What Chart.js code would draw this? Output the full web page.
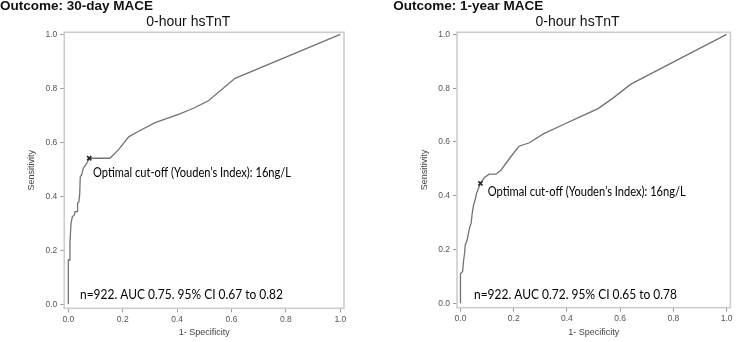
<!DOCTYPE html>
<html><head><meta charset="utf-8">
<script src="https://cdn.jsdelivr.net/npm/chart.js@4/dist/chart.umd.min.js"></script>
<style>
html,body{margin:0;padding:0;background:#fff;}
#wrap{position:relative;width:736px;height:342px;overflow:hidden;background:#fff;}
.c{position:absolute;top:0;width:368px;height:342px;}
</style></head><body>
<div id="wrap">
<div class="c" style="left:0"><canvas id="c1" width="368" height="342"></canvas></div>
<div class="c" style="left:368px"><canvas id="c2" width="368" height="342"></canvas></div>
</div>
<script>
// ---- data ----
const axisTicks = [0, 0.2, 0.4, 0.6, 0.8, 1.0];
const tickLabels = ['0.0', '0.2', '0.4', '0.6', '0.8', '1.0'];
const xTitle = '1- Specificity';
const yTitle = 'Sensitivity';
const subtitleText = '0-hour hsTnT';
const cutoffLabel = 'Optimal cut-off (Youden\u2019s Index): 16ng/L';

const mace30Title = 'Outcome: 30-day MACE';
const mace30Fpr = [0, 0, 0.004, 0.006, 0.010, 0.015, 0.022, 0.025, 0.032, 0.034, 0.039, 0.042, 0.044, 0.049, 0.055, 0.064, 0.071, 0.077, 0.153, 0.184, 0.223, 0.257, 0.319, 0.410, 0.460, 0.515, 0.613, 1.0];
const mace30Tpr = [0, 0.164, 0.164, 0.226, 0.300, 0.325, 0.330, 0.343, 0.343, 0.374, 0.380, 0.410, 0.473, 0.479, 0.504, 0.516, 0.528, 0.541, 0.541, 0.572, 0.621, 0.640, 0.673, 0.705, 0.726, 0.754, 0.837, 1.0];
const mace30Cutoff = [0.077, 0.541];
const mace30Stats = 'n=922. AUC 0.75. 95% CI 0.67 to 0.82';

const mace1yTitle = 'Outcome: 1-year MACE';
const mace1yFpr = [0, 0, 0.008, 0.012, 0.0155, 0.018, 0.025, 0.030, 0.035, 0.040, 0.044, 0.049, 0.055, 0.060, 0.0675, 0.075, 0.090, 0.108, 0.133, 0.152, 0.189, 0.220, 0.257, 0.313, 0.381, 0.449, 0.517, 0.573, 0.640, 1.0];
const mace1yTpr = [0, 0.110, 0.118, 0.161, 0.186, 0.217, 0.235, 0.260, 0.285, 0.297, 0.334, 0.365, 0.384, 0.408, 0.427, 0.446, 0.468, 0.480, 0.480, 0.495, 0.545, 0.584, 0.596, 0.631, 0.662, 0.693, 0.724, 0.763, 0.815, 1.0];
const mace1yCutoff = [0.075, 0.446];
const mace1yStats = 'n=922. AUC 0.72. 95% CI 0.65 to 0.78';

// ---- styles / layout ----
const layoutLeft = {top: 32.3, right: 24, yAxisW: 64.3, xAxisH: 33.7, xmin: -0.0147, xmax: 1.0136, ymin: -0.0148, ymax: 1.0074,
  titleX: 0, subX: 188.3, yTitlePad: 26.6, cutDx: 3.8, cutDy: 18.5, statsDx: 15.7, statsDy: 9};
const layoutRight = {top: 32.3, right: 2.7, yAxisW: 89, xAxisH: 34.3, xmin: -0.013, xmax: 1.0141, ymin: -0.0164, ymax: 1.0078,
  titleX: 25.3, subX: 209.5, yTitlePad: 51.6, cutDx: 7.3, cutDy: 12.6, statsDx: 17, statsDy: 9};

function fitText(ctx, text, x, y, targetW) {
  const w = ctx.measureText(text).width;
  const sx = targetW / w;
  ctx.save();
  ctx.translate(x, y);
  ctx.scale(sx, 1);
  ctx.fillText(text, 0, 0);
  ctx.restore();
}

function makeChart(id, title, fpr, tpr, cut, stats, L) {
  const textPlugin = {
    id: 'txt' + id,
    beforeDatasetsDraw(chart) {
      const {ctx, chartArea: a} = chart;
      ctx.save();
      ctx.strokeStyle = '#cdcdcd';
      ctx.lineWidth = 1.6;
      ctx.strokeRect(a.left, a.top, a.right - a.left, a.bottom - a.top);
      ctx.restore();
    },
    afterDraw(chart) {
      const {ctx, chartArea: a, scales} = chart;
      ctx.save();
      ctx.fillStyle = '#111';
      ctx.textBaseline = 'alphabetic';
      ctx.textAlign = 'left';
      ctx.font = 'bold 13.5px "Liberation Sans", Arial, sans-serif';
      ctx.fillText(title, L.titleX, 9.6);
      ctx.textAlign = 'center';
      ctx.font = '14px "Liberation Sans", Arial, sans-serif';
      ctx.fillText(subtitleText, L.subX, 26);
      ctx.textAlign = 'left';
      ctx.fillStyle = '#000';
      ctx.font = '12.5px Lato, "Open Sans", sans-serif';
      const px = scales.x.getPixelForValue(cut[0]);
      const py = scales.y.getPixelForValue(cut[1]);
      fitText(ctx, cutoffLabel, px + L.cutDx, py + L.cutDy, 198);
      fitText(ctx, stats, a.left + L.statsDx, a.bottom - L.statsDy, 203);
      ctx.restore();
    }
  };
  return new Chart(document.getElementById(id), {
    type: 'scatter',
    data: {
      datasets: [
        {data: fpr.map((x, i) => ({x: x, y: tpr[i]})), showLine: true, borderColor: '#727272', borderWidth: 1.3,
         pointRadius: 0, tension: 0, order: 2},
        {data: [{x: cut[0], y: cut[1]}], pointStyle: 'crossRot', pointRadius: 3, borderColor: '#222',
         backgroundColor: '#222', borderWidth: 1.6, order: 1}
      ]
    },
    options: {
      responsive: false, animation: false, devicePixelRatio: 1,
      layout: {padding: {left: 0, top: L.top, right: L.right, bottom: 0}},
      plugins: {legend: {display: false}, tooltip: {enabled: false}},
      scales: {
        x: {
          type: 'linear', min: L.xmin, max: L.xmax,
          afterBuildTicks: s => { s.ticks = axisTicks.map(v => ({value: v})); },
          afterFit: s => { s.height = L.xAxisH; },
          grid: {display: true, drawOnChartArea: false, drawTicks: true, tickLength: 4, color: '#9a9a9a', lineWidth: 1},
          border: {display: false},
          ticks: {callback: (v, i) => tickLabels[i], color: '#555', padding: 2, maxRotation: 0,
                  font: {family: '"Liberation Sans", Arial, sans-serif', size: 8.5}},
          title: {display: true, text: xTitle, color: '#444', padding: {top: 0, bottom: 3.6},
                  font: {family: '"Liberation Sans", Arial, sans-serif', size: 9}}
        },
        y: {
          type: 'linear', min: L.ymin, max: L.ymax,
          afterBuildTicks: s => { s.ticks = axisTicks.map(v => ({value: v})); },
          afterFit: s => { s.width = L.yAxisW; },
          grid: {display: true, drawOnChartArea: false, drawTicks: true, tickLength: 4, color: '#9a9a9a', lineWidth: 1},
          border: {display: false},
          ticks: {callback: (v, i) => tickLabels[i], color: '#555', padding: 3,
                  font: {family: '"Liberation Sans", Arial, sans-serif', size: 8.5}},
          title: {display: true, text: yTitle, color: '#444', padding: {top: L.yTitlePad, bottom: 0},
                  font: {family: '"Liberation Sans", Arial, sans-serif', size: 9}}
        }
      }
    },
    plugins: [textPlugin]
  });
}

makeChart('c1', mace30Title, mace30Fpr, mace30Tpr, mace30Cutoff, mace30Stats, layoutLeft);
makeChart('c2', mace1yTitle, mace1yFpr, mace1yTpr, mace1yCutoff, mace1yStats, layoutRight);
</script>
</body></html>
